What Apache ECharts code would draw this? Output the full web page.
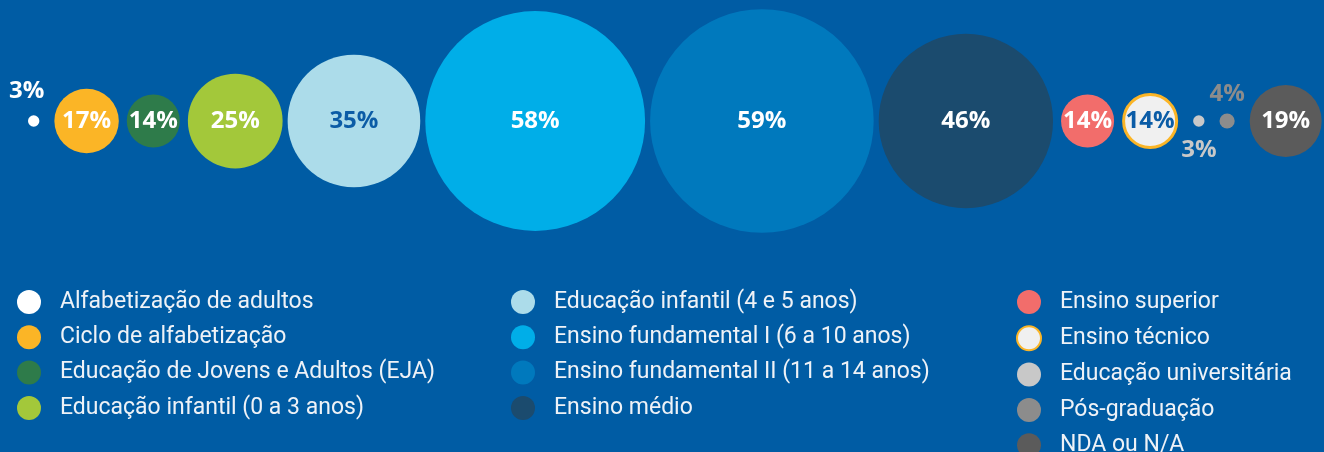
<!DOCTYPE html>
<html>
<head>
<meta charset="utf-8">
<script src="https://cdn.jsdelivr.net/npm/echarts@6/dist/echarts.min.js"></script>
<style>
html,body{margin:0;padding:0;background:#005ca4;}
#chart{width:1324px;height:452px;}
</style>
</head>
<body>
<div id="chart"></div>
<script>
// ---- data ----
const categories = [
  "Alfabetização de adultos",
  "Ciclo de alfabetização",
  "Educação de Jovens e Adultos (EJA)",
  "Educação infantil (0 a 3 anos)",
  "Educação infantil (4 e 5 anos)",
  "Ensino fundamental I (6 a 10 anos)",
  "Ensino fundamental II (11 a 14 anos)",
  "Ensino médio",
  "Ensino superior",
  "Ensino técnico",
  "Educação universitária",
  "Pós-graduação",
  "NDA ou N/A"
];
const values = [3, 17, 14, 25, 35, 58, 59, 46, 14, 14, 3, 4, 19];
const legendColumns = [
  categories.slice(0, 4),
  categories.slice(4, 8),
  categories.slice(8, 13)
];

// ---- styles ----
const colors = ["#ffffff", "#fbb526", "#2e7b4a", "#a3c83a", "#acdcea", "#00aee8",
                "#0079bd", "#1b4b6e", "#f26d6b", "#f0f0f0", "#c8c8c8", "#8c8c8c", "#5b5b5b"];
const LABEL_FONT = "'Open Sans', Roboto, sans-serif";
const LEGEND_FONT = "Roboto, 'Noto Sans', sans-serif";
const pxPerPct = 3.79;          // bubble diameter per percentage point
const startX = 28;              // left edge of first bubble
function gapBetween(a, b) {     // spacing rule: small dots need room for outside labels
  const m = Math.min(a, b);
  return m >= 20 ? 5 : (m >= 10 ? 8 : 15);
}
function bubbleSize(i) { return values[i] * pxPerPct; }

// layout: pack bubbles left to right
const centers = [];
let cursor = startX;
values.forEach((v, i) => {
  const d = bubbleSize(i) + (i === 9 ? 3 : 0);
  if (i > 0) cursor += gapBetween(values[i - 1], v);
  centers.push(cursor + d / 2);
  cursor += d;
});

const labelOverrides = {
  0: { position: "top", distance: 12, offset: [-7, 0], color: "#ffffff" },
  4: { color: "#0b5ca6" },
  9: { color: "#0b5ca6" },
  10: { position: "bottom", distance: 11, color: "#c8c8c8" },
  11: { position: "top", distance: 7, color: "#8c8c8c" }
};

const series = categories.map((name, i) => ({
  type: "scatter",
  name: name,
  data: [[centers[i], 0.5, values[i]]],
  symbol: "circle",
  symbolSize: bubbleSize(i),
  itemStyle: Object.assign({ color: colors[i], opacity: 1 },
    i === 9 ? { borderColor: "#fbb526", borderWidth: 3 } : {}),
  label: Object.assign({
    show: true,
    position: "inside",
    formatter: p => p.data[2] + "%",
    color: "#ffffff",
    fontFamily: LABEL_FONT,
    fontWeight: "bold",
    fontSize: 24
  }, labelOverrides[i] || {}),
  emphasis: { disabled: true },
  silent: true,
  z: 2
}));

const legendLefts = [12, 506, 1011];
const legends = legendColumns.map((col, k) => ({
  data: col,
  orient: "vertical",
  left: legendLefts[k],
  top: 285,
  height: 260,
  itemWidth: 24,
  itemHeight: 24,
  itemGap: 11.3,
  icon: "circle",
  selectedMode: false,
  textStyle: {
    color: "#eef2f7",
    fontFamily: LEGEND_FONT,
    fontSize: 23,
    lineHeight: 24,
    padding: [0, 0, 0, 14]
  }
}));

const chart = echarts.init(document.getElementById("chart"), null, { renderer: "canvas" });
chart.setOption({
  backgroundColor: "#005ca4",
  animation: false,
  grid: { left: 0, right: 0, top: 0, height: 242 },
  xAxis: { type: "value", min: 0, max: 1324, show: false },
  yAxis: { type: "value", min: 0, max: 1, show: false },
  legend: legends,
  series: series
});
</script>
</body>
</html>
